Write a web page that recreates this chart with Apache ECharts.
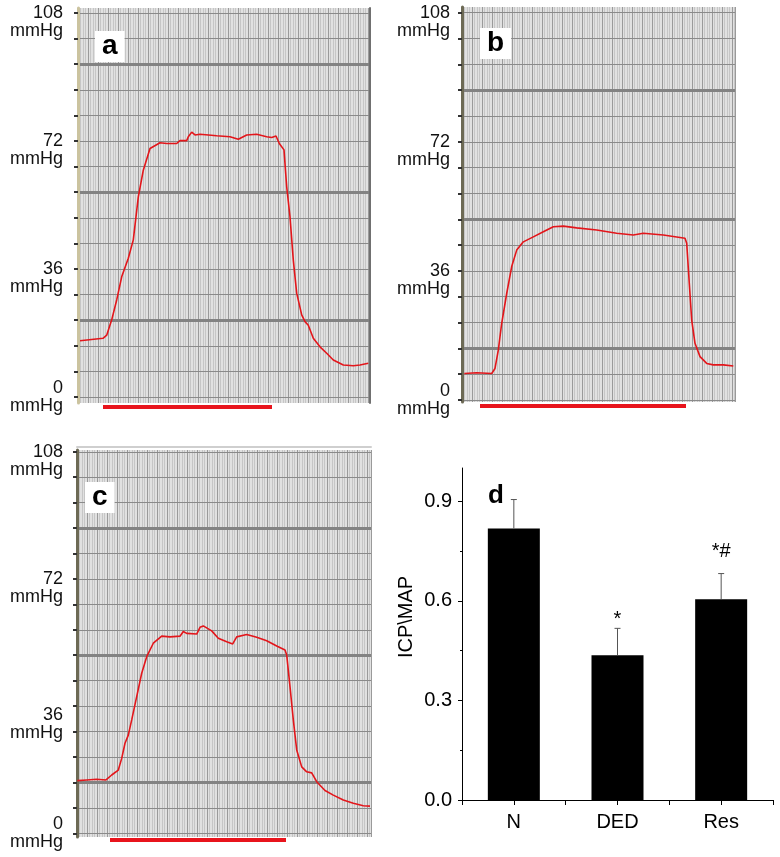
<!DOCTYPE html>
<html><head><meta charset="utf-8">
<script src="https://cdn.jsdelivr.net/npm/echarts@6/dist/echarts.min.js"></script>
<style>html,body{margin:0;padding:0;background:#fff}#c{width:780px;height:857px}</style>
</head><body><div id="c"></div>
<script>
// ---- Data ----
// Pressure traces: [time (arbitrary units), ICP in mmHg]
const traceA = [[2,15.8],[25,16.5],[28.7,17.4],[33.7,21.7],[38.7,27.3],[43.7,33.8],[50.3,39],[55.3,44.2],[60.3,56.3],[65.3,63.8],[72,69.9],[82,71.5],[88.7,71.3],[98.7,71.3],[102,72.1],[108.7,72.1],[110.3,73.2],[113.7,74.5],[117,73.7],[122,73.9],[138.7,73.5],[152,73.2],[160.3,72.5],[168.7,73.7],[178.7,73.9],[188.7,73.2],[193.7,73],[198,73.4],[201.3,71.3],[206,69.5],[208.7,59.1],[212,50.7],[215.3,38.5],[218.7,29.2],[223.7,23.1],[227,21.2],[230.3,20.2],[235.3,16.5],[242,14.1],[248.7,12.3],[255.3,10.4],[265.3,9],[275.3,8.8],[282,9],[290.3,9.5]];
const traceB = [[2.3,7.4],[14.7,7.6],[29.7,7.4],[33,8.8],[36.3,13.9],[39.7,21.4],[44.7,29.7],[49.7,37.2],[54.7,41.8],[61.3,44.1],[71.3,45.5],[81.3,46.9],[91.3,48.3],[101.3,48.5],[114.7,48],[134.7,47.4],[154.7,46.5],[171.3,46],[181.3,46.5],[201.3,46],[223,45.1],[224.7,43.7],[227.3,32.5],[229.7,22.3],[233,15.8],[238,12.1],[244.7,10.2],[251.3,9.8],[261.3,9.8],[271.3,9.5]];
const traceC = [[0.3,14.9],[9.7,15.1],[19.7,15.3],[29,15.1],[34.7,16.5],[41.3,17.9],[44.7,21.2],[48,25.5],[51.3,27.8],[54.7,32.1],[59.7,38.7],[64.7,45.3],[69.7,50],[76.3,53.8],[84.7,55.8],[93,55.6],[103,55.8],[106.3,57.1],[109.7,56.6],[119.7,56.4],[123,58.3],[126.3,58.7],[134.7,57.3],[141.3,55.2],[149.7,54.2],[155.7,53.6],[159.7,55.6],[169.7,56.3],[179.7,55.5],[189.7,54.5],[199.7,53],[208,51.9],[209.7,50.5],[213,41.5],[216.3,32.1],[219.7,23.6],[224.7,18.8],[229.7,17.4],[234.7,17.1],[239.7,14.6],[248,12.1],[256.3,10.8],[266.3,9.4],[276.3,8.5],[286.3,7.8],[293,7.7]];
// Stimulation periods [start, end]
const stimA = [25, 194];
const stimB = [18, 224];
const stimC = [33, 209];
// Time extent of each recording
const spanA = 292, spanB = 273, spanC = 294;
// mmHg axis ticks
const mmHgTicks = [0,7.2,14.4,21.6,28.8,36,43.2,50.4,57.6,64.8,72,79.2,86.4,93.6,100.8,108];
const mmHgLabels = [0,36,72,108];
const majorLinesA = [21.6,57.6,93.6];
const majorLinesBC = [14.4,50.4,86.4];
// Panel d
const groups = ['N','DED','Res'];
const ratioMean = [0.818,0.436,0.605];
const ratioSD = [0.087,0.081,0.077];
const sigMarks = ['','*','*#'];
const sigY = [0,0.545,0.75];
const ratioTicks = [0,0.3,0.6,0.9];
const ratioMinorTicks = [0.15,0.45,0.75];

// ---- Build ----
const FONT = 'Liberation Sans, Arial, Helvetica, sans-serif';
const grid = [], xAxis = [], yAxis = [], series = [];

function tracePanel(o) {
  const g = grid.length;
  grid.push({left:o.left, top:o.top, width:o.width, height:o.height, show:true, backgroundColor:'#e1e1e1',
    borderWidth:0, outerBoundsMode:'none', containLabel:false});
  const xi = xAxis.length;
  xAxis.push({gridIndex:g, type:'value', min:0, max:o.span, interval:10, z:0,
    axisLine:{show:false}, axisTick:{show:false}, axisLabel:{show:false},
    splitLine:{show:true, lineStyle:{color:'#9a9a9a', width:1}},
    minorTick:{show:false, splitNumber:4},
    minorSplitLine:{show:true, lineStyle:{color:'#c6c6c6', width:1}}});
  if (o.topEdge) {
    xAxis.push({gridIndex:g, type:'value', min:0, max:o.span, position:'top', offset:3,
      axisLine:{show:true, onZero:false, lineStyle:{color:'#cfcfcf', width:2}},
      axisTick:{show:false}, axisLabel:{show:false}, splitLine:{show:false}});
  }
  const yi = yAxis.length;
  yAxis.push({gridIndex:g, type:'value', min:o.min, max:o.max, position:'left', z:1,
    axisLine:{show:true, onZero:false, lineStyle:{color:o.axisColor, width:3}},
    axisTick:{show:true, customValues:mmHgTicks, length:4, lineStyle:{color:'#333', width:2}},
    axisLabel:{customValues:mmHgLabels, margin:o.margin, fontSize:18, lineHeight:18, color:'#111', fontFamily:FONT,
      formatter: v => '\n'.repeat(o.lead[v] || 0) + v + '\nmmHg'},
    splitLine:{show:true, lineStyle:{color:'#8a8a8a', width:1}}});
  yAxis.push({gridIndex:g, type:'value', min:o.min, max:o.max, position:'left', z:1,
    axisLine:{show:false}, axisTick:{show:false, customValues:o.major}, axisLabel:{show:false},
    splitLine:{show:true, lineStyle:{color:'#838383', width:3}}});
  if (o.rightBorder) {
    yAxis.push({gridIndex:g, type:'value', min:o.min, max:o.max, position:'right', z:1,
      axisLine:{show:true, onZero:false, lineStyle:{color:'#707070', width:2}},
      axisTick:{show:false}, axisLabel:{show:false}, splitLine:{show:false}});
  }
  series.push({type:'line', xAxisIndex:xi, yAxisIndex:yi, data:o.data, showSymbol:false,
    lineStyle:{color:'#e3161b', width:1.6}, z:3, silent:true});
  // stimulation bar grid
  const g2 = grid.length;
  grid.push({left:o.left, top:o.stimTop, width:o.width, height:8, outerBoundsMode:'none', containLabel:false});
  const xi2 = xAxis.length;
  xAxis.push({gridIndex:g2, type:'value', min:0, max:o.span, show:false});
  const yi2 = yAxis.length;
  yAxis.push({gridIndex:g2, type:'value', min:-1, max:1, show:false});
  series.push({type:'line', xAxisIndex:xi2, yAxisIndex:yi2, data:[[o.stim[0],0],[o.stim[1],0]],
    showSymbol:false, lineStyle:{color:'#e8141c', width:4, cap:'butt'}, silent:true});
}

tracePanel({left:78, top:8, width:292, height:395, span:spanA, min:-1.69, max:109.41,
  axisColor:'#cbc39f', margin:15, lead:{0:0, 36:1, 72:1, 108:1}, major:majorLinesA, data:traceA,
  stim:stimA, stimTop:403, rightBorder:true});
tracePanel({left:462, top:7, width:273, height:395, span:spanB, min:-0.56, max:109.6,
  axisColor:'#6d6a55', margin:12, lead:{0:0, 36:1, 72:1, 108:1}, major:majorLinesBC, data:traceB,
  stim:stimB, stimTop:402});
tracePanel({left:77, top:450, width:294, height:387, span:spanC, min:-1.05, max:108.5,
  axisColor:'#6d6a55', margin:14, lead:{0:0, 36:2, 72:1, 108:1}, major:majorLinesBC, data:traceC,
  stim:stimC, stimTop:836, topEdge:true});

// Panel d
const gd = grid.length;
grid.push({left:462, top:468, width:311, height:332, outerBoundsMode:'none', containLabel:false});
const xd = xAxis.length;
xAxis.push({gridIndex:gd, type:'category', data:groups, position:'bottom',
  axisLine:{show:true, onZero:false, lineStyle:{color:'#000', width:1}},
  axisTick:{show:true, length:5, lineStyle:{color:'#000'}},
  axisLabel:{fontSize:20, color:'#000', margin:12, fontFamily:FONT}});
xAxis.push({gridIndex:gd, type:'category', data:groups, position:'bottom',
  axisLine:{show:false, onZero:false}, axisTick:{show:true, alignWithLabel:true, length:5, lineStyle:{color:'#000'}},
  axisLabel:{show:false}});
const yd = yAxis.length;
yAxis.push({gridIndex:gd, type:'value', min:0, max:1.0, position:'left',
  axisLine:{show:true, onZero:false, lineStyle:{color:'#000', width:1}},
  axisTick:{show:true, customValues:ratioTicks, length:4, lineStyle:{color:'#000'}},
  axisLabel:{customValues:ratioTicks, formatter: v => v.toFixed(1), fontSize:20, color:'#000', margin:10, fontFamily:FONT},
  splitLine:{show:false},
  name:'ICP\\MAP', nameLocation:'middle', nameGap:46,
  nameTextStyle:{fontSize:20, color:'#000', fontFamily:FONT, padding:[0,0,0,34]}});
yAxis.push({gridIndex:gd, type:'value', min:0, max:1.0, position:'left',
  axisLine:{show:false, onZero:false}, axisTick:{show:true, customValues:ratioMinorTicks, length:2, lineStyle:{color:'#000'}},
  axisLabel:{show:false}, splitLine:{show:false}});
series.push({type:'bar', xAxisIndex:xd, yAxisIndex:yd, data:ratioMean, barWidth:52,
  itemStyle:{color:'#000'}, silent:true});
series.push({type:'custom', xAxisIndex:xd, yAxisIndex:yd, silent:true, z:4,
  data: groups.map((g,i) => [i, ratioMean[i], ratioMean[i] + ratioSD[i]]),
  renderItem: (params, api) => {
    const lo = api.coord([api.value(0), api.value(1)]);
    const hi = api.coord([api.value(0), api.value(2)]);
    return {type:'group', children:[
      {type:'line', shape:{x1:lo[0], y1:lo[1], x2:hi[0], y2:hi[1]}, style:{stroke:'#555', lineWidth:1}},
      {type:'line', shape:{x1:hi[0]-3, y1:hi[1], x2:hi[0]+3, y2:hi[1]}, style:{stroke:'#555', lineWidth:1}}
    ]};
  }});
series.push({type:'custom', xAxisIndex:xd, yAxisIndex:yd, silent:true, z:4,
  data: groups.map((g,i) => [i, sigY[i]]),
  renderItem: (params, api) => {
    const t = sigMarks[params.dataIndex];
    if (!t) return null;
    const p = api.coord([api.value(0), api.value(1)]);
    return {type:'text', x:p[0], y:p[1], style:{text:t, fontSize:20, fill:'#000', fontFamily:FONT, align:'center', verticalAlign:'middle'}};
  }});

const boxTitle = (t, left, top) => ({text:t, left, top, backgroundColor:'#fff', padding:[1,7,2,7],
  textStyle:{fontSize:28, fontWeight:'bold', color:'#000', lineHeight:28, fontFamily:FONT}});

const option = {
  animation:false,
  title:[
    boxTitle('a', 95, 31), boxTitle('b', 480, 28), boxTitle('c', 85, 482),
    {text:'d', left:488, top:483, padding:0, textStyle:{fontSize:26, fontWeight:'bold', color:'#000', lineHeight:26, fontFamily:FONT}}
  ],
  grid, xAxis, yAxis, series
};
const chart = echarts.init(document.getElementById('c'), null, {renderer:'canvas'});
chart.setOption(option);
</script></body></html>
